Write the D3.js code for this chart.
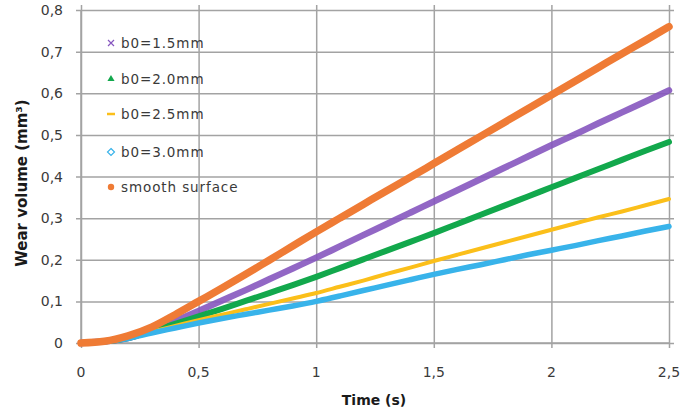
<!DOCTYPE html>
<html>
<head>
<meta charset="utf-8">
<script src="https://cdn.jsdelivr.net/npm/d3@7"></script>
<style>
  body { margin: 0; background: #fff; }
  text { font-family: "DejaVu Sans", Verdana, sans-serif; fill: #3a3a3a; }
</style>
</head>
<body>
<svg id="chart" width="681" height="412"></svg>
<script>
// time axis (s)
const time = [0, 0.1, 0.2, 0.3, 0.4, 0.5, 0.6, 0.7, 0.8, 0.9, 1.0, 1.1, 1.2, 1.3, 1.4, 1.5, 1.6, 1.7, 1.8, 1.9, 2.0, 2.1, 2.2, 2.3, 2.4, 2.5];

// wear volume (mm3) per series
const b15 = [0, 0.004, 0.012, 0.031, 0.053, 0.077, 0.102, 0.127, 0.153, 0.179, 0.205, 0.232, 0.259, 0.286, 0.313, 0.340, 0.367, 0.394, 0.421, 0.448, 0.475, 0.501, 0.528, 0.554, 0.580, 0.607];
const b20 = [0, 0.004, 0.012, 0.029, 0.046, 0.064, 0.082, 0.101, 0.120, 0.139, 0.159, 0.180, 0.201, 0.222, 0.243, 0.264, 0.286, 0.308, 0.330, 0.352, 0.374, 0.396, 0.418, 0.440, 0.462, 0.483];
const b25 = [0, 0.004, 0.012, 0.027, 0.041, 0.055, 0.068, 0.081, 0.094, 0.107, 0.120, 0.135, 0.150, 0.166, 0.181, 0.197, 0.212, 0.227, 0.242, 0.257, 0.272, 0.287, 0.302, 0.316, 0.331, 0.346];
const b30 = [0, 0.004, 0.011, 0.024, 0.036, 0.048, 0.059, 0.069, 0.079, 0.089, 0.100, 0.113, 0.126, 0.139, 0.152, 0.165, 0.177, 0.188, 0.200, 0.212, 0.223, 0.234, 0.246, 0.257, 0.269, 0.280];
const smooth = [0, 0.004, 0.017, 0.038, 0.068, 0.100, 0.132, 0.165, 0.199, 0.233, 0.267, 0.300, 0.333, 0.366, 0.398, 0.431, 0.464, 0.497, 0.530, 0.563, 0.596, 0.629, 0.662, 0.695, 0.727, 0.760];

const seriesNames = ["b0=1.5mm", "b0=2.0mm", "b0=2.5mm", "b0=3.0mm", "smooth surface"];
const xTicks = [0, 0.5, 1, 1.5, 2, 2.5];
const yTicks = [0, 0.1, 0.2, 0.3, 0.4, 0.5, 0.6, 0.7, 0.8];

const series = [
  { name: seriesNames[0], values: b15, color: "#8656bf", width: 6.5, symbol: "x" },
  { name: seriesNames[1], values: b20, color: "#12a84c", width: 6, symbol: "triangle" },
  { name: seriesNames[2], values: b25, color: "#fbbf1a", width: 4, symbol: "dash" },
  { name: seriesNames[3], values: b30, color: "#38b3ea", width: 5.5, symbol: "diamond" },
  { name: seriesNames[4], values: smooth, color: "#ef7b35", width: 7.5, symbol: "circle" }
];

const svg = d3.select("#chart");
const margin = { left: 81, top: 10, right: 12, bottom: 69 };
const W = 681 - margin.left - margin.right;
const H = 412 - margin.top - margin.bottom;

const x = d3.scaleLinear().domain([0, 2.5]).range([0, W]);
const y = d3.scaleLinear().domain([0, 0.8]).range([H, 0]);
const fmt = d => String(d).replace(".", ",");

const g = svg.append("g").attr("transform", `translate(${margin.left},${margin.top})`);

// gridlines
g.append("g")
  .attr("transform", `translate(0,${H})`)
  .call(d3.axisBottom(x).tickValues(xTicks).tickSize(-H - 5).tickFormat(""))
  .call(a => a.selectAll("line").attr("y1", 5))
  .call(a => a.select(".domain").remove());
g.append("g")
  .call(d3.axisLeft(y).tickValues(yTicks).tickSize(-W - 5).tickFormat(""))
  .call(a => a.selectAll("line").attr("x1", -5))
  .call(a => a.select(".domain").remove());
g.selectAll(".tick line").attr("stroke", "#a3a3a3").attr("stroke-width", 1.5);

// axis lines
g.append("line").attr("x1", 0).attr("x2", 0).attr("y1", 0).attr("y2", H)
  .attr("stroke", "#a3a3a3").attr("stroke-width", 1.5);
g.append("line").attr("x1", 0).attr("x2", W).attr("y1", H).attr("y2", H)
  .attr("stroke", "#a3a3a3").attr("stroke-width", 1.5);

// tick labels
g.selectAll(".ylab").data(yTicks).enter().append("text")
  .attr("x", -18).attr("y", d => y(d) + 5)
  .attr("text-anchor", "end").style("font-size", "14px")
  .text(fmt);
g.selectAll(".xlab").data(xTicks).enter().append("text")
  .attr("x", d => x(d)).attr("y", H + 34)
  .attr("text-anchor", "middle").style("font-size", "14px")
  .text(fmt);

// lines
const line = d3.line()
  .x((d, i) => x(time[i]))
  .y(d => y(d))
  .curve(d3.curveMonotoneX);

series.forEach(s => {
  g.append("path")
    .attr("d", line(s.values))
    .attr("fill", "none")
    .attr("stroke", s.color)
    .attr("stroke-width", s.width)
    .attr("stroke-linecap", "round")
    .attr("stroke-linejoin", "round")
    .attr("opacity", s.symbol === "x" ? 0.9 : 1);
});

// legend
const legendY = [43, 79, 114, 152, 187];
const lg = svg.append("g");
series.forEach((s, i) => {
  const row = lg.append("g").attr("transform", `translate(111,${legendY[i]})`);
  if (s.symbol === "x") {
    row.append("path").attr("d", "M-3,-3L3,3M-3,3L3,-3")
      .attr("stroke", s.color).attr("stroke-width", 1.2);
  } else if (s.symbol === "triangle") {
    row.append("path").attr("d", d3.symbol(d3.symbolTriangle, 22)())
      .attr("fill", s.color);
  } else if (s.symbol === "dash") {
    row.append("line").attr("x1", -4).attr("x2", 4)
      .attr("stroke", s.color).attr("stroke-width", 2.5);
  } else if (s.symbol === "diamond") {
    row.append("path").attr("d", "M0,-3.5L3.5,0L0,3.5L-3.5,0Z")
      .attr("fill", "none").attr("stroke", s.color).attr("stroke-width", 1.2);
  } else {
    row.append("circle").attr("r", 3.2).attr("fill", s.color);
  }
  row.append("text").attr("x", 10).attr("y", 5)
    .style("font-size", "13.5px").style("letter-spacing", "0.9px")
    .text(s.name);
});

// axis titles
svg.append("text")
  .attr("x", 374).attr("y", 405)
  .attr("text-anchor", "middle")
  .style("font-size", "14px").style("font-weight", "bold").style("fill", "#1a1a1a")
  .text("Time (s)");
svg.append("text")
  .attr("transform", "translate(27,183) rotate(-90)")
  .attr("text-anchor", "middle")
  .style("font-size", "15px").style("font-weight", "bold").style("fill", "#1a1a1a")
  .text("Wear volume (mm³)");
</script>
</body>
</html>
